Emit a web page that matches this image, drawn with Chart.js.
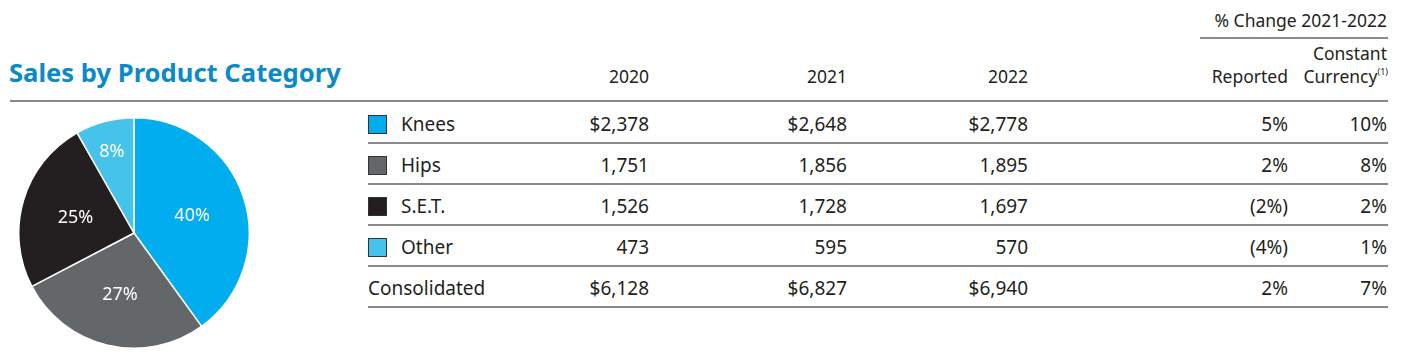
<!DOCTYPE html>
<html>
<head>
<meta charset="utf-8">
<script src="https://cdn.jsdelivr.net/npm/chart.js@4.4.0/dist/chart.umd.min.js"></script>
<style>
  html, body { margin: 0; padding: 0; background: #fff; }
  body { width: 1423px; height: 361px; position: relative; overflow: hidden;
         font-family: "Noto Sans", "Open Sans", sans-serif; color: #231f20; }
  .title { position: absolute; left: 9px; top: 56px; font-size: 25.6px; font-weight: 700;
           color: #0a8ac6; line-height: 34px; }
  .rule { position: absolute; height: 2px; background: #8a8a8a; }
  .cell { position: absolute; font-size: 19px; white-space: nowrap; line-height: 24px; }
  .hdr { position: absolute; font-size: 17.5px; white-space: nowrap; line-height: 22px; }
  .r { text-align: right; }
  .sw { position: absolute; width: 17px; height: 17px; border: 1.5px solid #333; }
  sup { font-size: 9px; vertical-align: 8px; line-height: 0; }
  #pieBox { position: absolute; left: 18px; top: 117px; width: 232px; height: 232px; }
</style>
</head>
<body>
<div class="title">Sales by Product Category</div>
<div id="pieBox"><canvas id="pie" width="232" height="232"></canvas></div>
<div id="table"></div>
<script>
const categories = ['Knees', 'Hips', 'S.E.T.', 'Other'];
const years = ['2020', '2021', '2022'];
const sales2020 = [2378, 1751, 1526, 473];
const sales2021 = [2648, 1856, 1728, 595];
const sales2022 = [2778, 1895, 1697, 570];
const sharePct = [40, 27, 25, 8];
const reported = [5, 2, -2, -4];
const constantCurrency = [10, 8, 2, 1];
const totals = { label: 'Consolidated', y2020: 6128, y2021: 6827, y2022: 6940, reported: 2, constant: 7 };
const colors = ['#00aeef', '#636769', '#231f20', '#45c3eb'];

const tbl = document.getElementById('table');
const add = (cls, text, style) => {
  const d = document.createElement('div');
  d.className = cls;
  d.innerHTML = text;
  Object.assign(d.style, style);
  tbl.appendChild(d);
  return d;
};
const money = (v, dollar) => (dollar ? '$' : '') + v.toLocaleString('en-US');
const pct = v => v < 0 ? '(' + Math.abs(v) + '%)' : v + '%';

// column right edges
const colRight = [649, 847, 1028, 1288, 1387];
const R = x => (1423 - x) + 'px';

// header
add('hdr r', '% Change 2021-2022', { right: R(1387), top: '9px' });
add('rule', '', { left: '1200px', width: '188px', top: '37px', height: '1.5px' });
years.forEach((y, i) => add('hdr r', y, { right: R(colRight[i]), top: '65px' }));
add('hdr r', 'Reported', { right: R(colRight[3]), top: '65px' });
add('hdr r', 'Constant', { right: R(colRight[4]), top: '42px' });
add('hdr r', 'Currency<sup>(1)</sup>', { right: R(1388), top: '65px' });
add('rule', '', { left: '10px', width: '1378px', top: '100px' });

const rowTop = [112, 153, 194, 235, 276];
categories.forEach((c, i) => {
  const t = rowTop[i];
  add('sw', '', { left: '368px', top: (t + 3) + 'px', background: colors[i] });
  add('cell', c, { left: '401px', top: t + 'px' });
  add('cell r', money(sales2020[i], i === 0), { right: R(colRight[0]), top: t + 'px' });
  add('cell r', money(sales2021[i], i === 0), { right: R(colRight[1]), top: t + 'px' });
  add('cell r', money(sales2022[i], i === 0), { right: R(colRight[2]), top: t + 'px' });
  add('cell r', pct(reported[i]), { right: R(colRight[3]), top: t + 'px' });
  add('cell r', pct(constantCurrency[i]), { right: R(colRight[4]), top: t + 'px' });
  add('rule', '', { left: '368px', width: '1020px', top: (t + 30) + 'px' });
});
const tt = rowTop[4];
add('cell', totals.label, { left: '368px', top: tt + 'px' });
add('cell r', money(totals.y2020, true), { right: R(colRight[0]), top: tt + 'px' });
add('cell r', money(totals.y2021, true), { right: R(colRight[1]), top: tt + 'px' });
add('cell r', money(totals.y2022, true), { right: R(colRight[2]), top: tt + 'px' });
add('cell r', pct(totals.reported), { right: R(colRight[3]), top: tt + 'px' });
add('cell r', pct(totals.constant), { right: R(colRight[4]), top: tt + 'px' });
add('rule', '', { left: '368px', width: '1020px', top: (tt + 30) + 'px' });

// percentage labels inside slices
const sliceLabels = {
  id: 'sliceLabels',
  afterDatasetsDraw(chart) {
    const ctx = chart.ctx;
    const meta = chart.getDatasetMeta(0);
    ctx.save();
    ctx.fillStyle = '#fff';
    ctx.font = '18px "Noto Sans", sans-serif';
    ctx.textAlign = 'center';
    ctx.textBaseline = 'middle';
    meta.data.forEach((arc, i) => {
      const p = arc.getProps(['x', 'y', 'startAngle', 'endAngle', 'outerRadius']);
      const mid = (p.startAngle + p.endAngle) / 2;
      const span = p.endAngle - p.startAngle;
      const k = span < 0.8 ? 0.75 : 0.53;
      const x = p.x + Math.cos(mid) * p.outerRadius * k;
      const y = p.y + Math.sin(mid) * p.outerRadius * k + 2;
      ctx.fillText(sharePct[i] + '%', x, y);
    });
    ctx.restore();
  }
};

new Chart(document.getElementById('pie'), {
  type: 'pie',
  data: {
    labels: categories,
    datasets: [{
      data: sales2022,
      backgroundColor: colors,
      borderColor: '#ffffff',
      borderWidth: 1.5,
    }],
  },
  options: {
    responsive: false,
    animation: false,
    layout: { padding: 0 },
    plugins: { legend: { display: false }, tooltip: { enabled: false } },
  },
  plugins: [sliceLabels],
});
</script>
</body>
</html>
